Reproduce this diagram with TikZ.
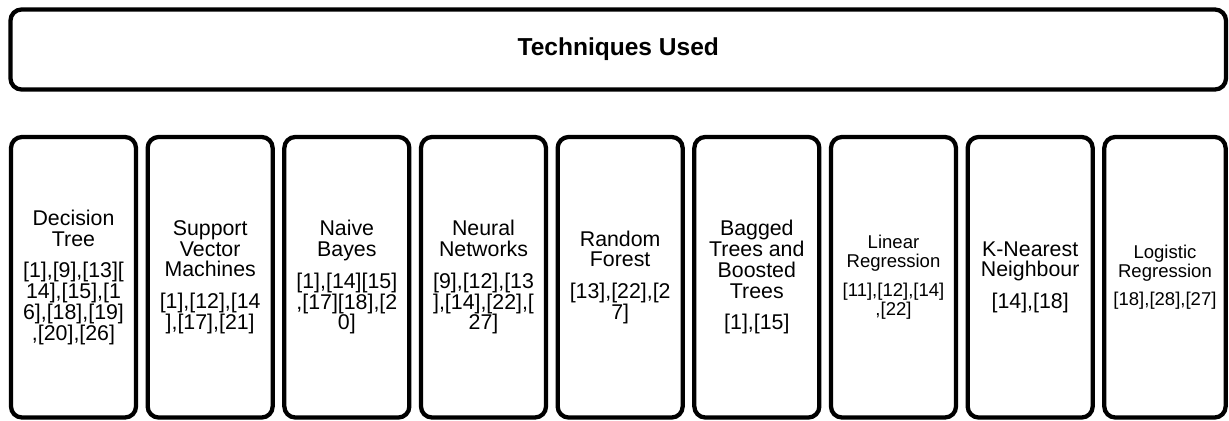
\documentclass[tikz,border=0pt]{standalone}
\usepackage{fontspec}
\setmainfont{Liberation Sans}
\usetikzlibrary{positioning}

\begin{document}
\begin{tikzpicture}[x=0.75pt, y=-0.75pt, node distance={102.5pt},
    techbox/.style={draw, minimum width=93.75pt, minimum height=210.4pt, align=center,
      font=\fontsize{16}{15.6}\selectfont},
    smalltext/.style={font=\fontsize{13.9}{14.2}\selectfont}]
    \useasboundingbox (0,0) rectangle (1229,421);
\begin{scope}[line width=3.2pt, rounded corners=8.25pt]
    \node[draw, minimum width=911.6pt, minimum height=60pt,
      font=\bfseries\fontsize{18.4}{22}\selectfont] (0) at (618.25,49.5) {Techniques Used};
    \node[techbox] (1) at (73.5,277.25)
      {Decision\\Tree\\[8.3pt][1],[9],[13][\\14],[15],[1\\6],[18],[19]\\,[20],[26]};
    \node[techbox] (2) [right of=1]
      {Support\\Vector\\Machines\\[8.3pt][1],[12],[14\\],[17],[21]};
    \node[techbox] (3) [right of=2]
      {Naive\\Bayes\\[8.3pt][1],[14][15]\\,[17][18],[2\\0]};
    \node[techbox] (4) [right of=3]
      {Neural\\Networks\\[8.3pt][9],[12],[13\\],[14],[22],[\\27]};
    \node[techbox] (5) [right of=4]
      {Random\\Forest\\[8.3pt][13],[22],[2\\7]};
    \node[techbox] (6) [right of=5]
      {Bagged\\Trees and\\Boosted\\Trees\\[8.3pt][1],[15]};
    \node[techbox, smalltext] (7) [right of=6]
      {Linear\\Regression\\[7pt][11],[12],[14]\\,[22]};
    \node[techbox] (8) [right of=7]
      {K-Nearest\\Neighbour\\[8.3pt][14],[18]};
    \node[techbox, smalltext, minimum width=91pt, xshift=-1.4pt] (9) [right of=8]
      {Logistic\\Regression\\[7pt][18],[28],[27]};
\end{scope}
\end{tikzpicture}
\end{document}
